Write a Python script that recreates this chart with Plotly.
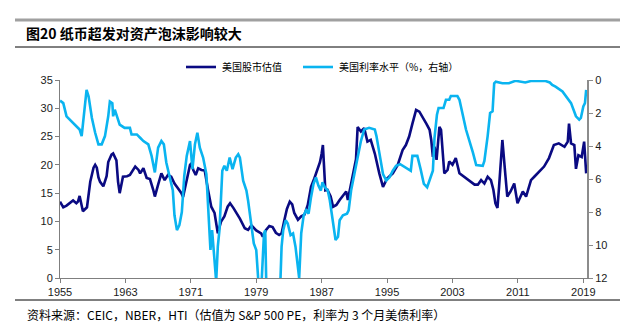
import plotly.graph_objects as go

# --- Data ---
pe_years = [1955.0, 1955.4, 1955.8, 1956.2, 1956.6, 1957.0, 1957.2, 1957.4, 1957.8, 1958.3,
            1958.7, 1959.1, 1959.3, 1959.5, 1959.7, 1959.9, 1960.3, 1960.7, 1960.9, 1961.3,
            1961.5, 1961.9, 1962.1, 1962.3, 1962.7, 1963.2, 1963.55, 1964.2, 1964.6, 1964.8,
            1965.2, 1965.6, 1966.0, 1966.4, 1966.6, 1967.0, 1967.4, 1967.8, 1968.2, 1968.6,
            1969.0, 1969.4, 1969.85, 1970.05, 1970.4, 1970.9, 1971.1, 1971.3, 1971.6, 1971.9,
            1972.3, 1972.7, 1973.1, 1973.5, 1973.9, 1974.3, 1974.7, 1975.1, 1975.5, 1975.8,
            1976.2, 1976.6, 1977.0, 1977.6, 1978.0, 1978.4, 1979.0, 1979.6, 1979.8, 1980.2,
            1980.6, 1981.0, 1981.4, 1981.8, 1982.1, 1982.45, 1982.75, 1983.1, 1983.4, 1983.65,
            1984.1, 1984.5, 1984.9, 1985.3, 1985.7, 1986.1, 1986.5, 1986.8, 1987.0, 1987.15,
            1987.3, 1987.45, 1987.7, 1988.1, 1988.4, 1988.8, 1989.2, 1989.6, 1990.0, 1990.2,
            1990.6, 1991.2, 1991.4, 1991.8, 1992.2, 1992.6, 1993.0, 1993.5, 1994.05, 1994.5,
            1995.0, 1995.7, 1996.3, 1996.9, 1997.3, 1997.7, 1998.1, 1998.55, 1998.95, 1999.35,
            1999.8, 2000.2, 2000.4, 2000.6, 2000.8, 2001.05, 2001.4, 2001.6, 2002.0, 2002.4,
            2002.6, 2003.0, 2003.4, 2003.85, 2004.4, 2005.1, 2005.7, 2006.1, 2006.5, 2006.9,
            2007.3, 2007.7, 2008.0, 2008.25, 2008.5, 2008.7, 2009.05, 2009.1, 2009.45, 2009.7,
            2010.1, 2010.55, 2010.95, 2011.6, 2012.0, 2012.6, 2013.0, 2013.6, 2014.2, 2014.8,
            2015.4, 2016.0, 2016.7, 2017.1, 2017.25, 2017.5, 2017.9, 2018.1, 2018.4, 2018.8,
            2019.1, 2019.35]
pe_values = [13.5, 12.5, 12.8, 13.2, 13.7, 13.2, 13.5, 14.5, 11.8, 12.5,
             17.0, 19.5, 20.0, 19.5, 17.8, 17.0, 16.2, 18.0, 20.5, 21.8,
             22.0, 20.8, 17.0, 15.0, 17.9, 18.0, 18.2, 19.7, 19.1, 18.5,
             19.4, 17.7, 17.5, 15.6, 14.4, 16.5, 18.5, 17.3, 18.2, 17.9,
             16.7, 15.9, 15.0, 14.3, 16.5, 20.0, 20.3, 19.1, 18.2, 19.4,
             19.1, 19.0, 15.6, 12.6, 11.5, 7.9, 10.0, 10.9, 12.6, 13.2,
             12.4, 11.5, 10.5, 8.8, 8.5, 9.3, 8.4, 7.9, 7.3, 8.5,
             9.2, 9.0, 8.0, 7.6, 7.9, 10.3, 12.2, 13.5, 13.0, 11.5,
             10.3, 10.9, 11.2, 12.9, 16.1, 17.6, 19.4, 20.5, 22.0, 23.5,
             19.5, 15.5, 15.6, 14.4, 12.6, 12.9, 13.8, 14.6, 15.3, 13.8,
             16.8, 21.0, 26.7, 25.9, 26.5, 24.1, 24.4, 22.0, 18.5, 16.1,
             17.6, 18.5, 20.0, 22.6, 23.5, 25.0, 27.3, 29.7, 29.4, 28.5,
             27.3, 26.2, 24.4, 21.4, 23.2, 20.9, 26.7, 26.2, 18.5, 19.1,
             20.6, 20.0, 21.2, 18.5, 17.9, 17.3, 16.5, 16.5, 17.3, 16.7,
             17.9, 17.3, 15.6, 13.2, 12.4, 16.2, 24.1, 24.4, 18.5, 14.4,
             15.3, 16.7, 13.2, 15.3, 14.4, 17.3, 17.9, 18.8, 19.7, 21.2,
             23.5, 23.8, 23.2, 24.1, 27.3, 23.8, 23.5, 19.3, 21.7, 21.4,
             24.1, 18.5]

rate_years = [1955.0, 1955.4, 1955.8, 1956.4, 1957.0, 1957.4, 1957.65, 1958.05, 1958.25, 1958.5,
              1958.9, 1959.3, 1959.7, 1960.1, 1960.5, 1960.9, 1961.1, 1961.4, 1961.5, 1961.7,
              1962.1, 1962.3, 1962.9, 1963.55, 1963.75, 1964.4, 1964.8, 1965.2, 1965.8, 1966.2,
              1966.6, 1967.0, 1967.4, 1967.7, 1968.0, 1968.4, 1968.8, 1969.0, 1969.3, 1969.6,
              1969.9, 1970.2, 1970.5, 1970.9, 1971.2, 1971.5, 1971.8, 1972.1, 1972.5, 1972.9,
              1973.2, 1973.4, 1973.6, 1973.8, 1974.1, 1974.3, 1974.5, 1974.85, 1975.1, 1975.4,
              1975.75, 1976.1, 1976.5, 1976.8, 1977.0, 1977.4, 1977.8, 1978.0, 1978.3, 1978.5,
              1978.7, 1979.0, 1979.3, 1979.6, 1979.95, 1980.1, 1980.25, 1980.6, 1981.0, 1981.4,
              1981.9, 1982.1, 1982.3, 1982.6, 1982.85, 1983.2, 1983.5, 1983.8, 1984.1, 1984.25,
              1984.5, 1984.8, 1985.1, 1985.4, 1985.7, 1986.0, 1986.3, 1986.6, 1986.9, 1987.1,
              1987.4, 1987.75, 1988.0, 1988.4, 1988.7, 1989.0, 1989.2, 1989.6, 1990.1, 1990.3,
              1990.6, 1991.0, 1991.4, 1991.8, 1992.2, 1992.8, 1993.5, 1993.7, 1994.05, 1994.5,
              1994.9, 1995.3, 1995.7, 1996.1, 1996.6, 1997.3, 1997.9, 1998.1, 1998.7, 1999.1,
              1999.5, 1999.9, 2000.3, 2000.6, 2000.8, 2001.1, 2001.3, 2001.9, 2002.2, 2002.6,
              2002.8, 2003.6, 2003.85, 2004.65, 2005.5, 2005.9, 2006.7, 2006.9, 2007.3, 2007.6,
              2007.9, 2008.1, 2008.3, 2009.1, 2009.9, 2010.7, 2011.9, 2012.7, 2014.3, 2014.9,
              2015.2, 2015.6, 2016.45, 2016.9, 2017.5, 2018.1, 2018.5, 2018.7, 2019.0, 2019.2,
              2019.35]
rate_values = [1.25, 1.4, 2.2, 2.5, 2.8, 3.0, 3.4, 1.4, 0.6, 1.0,
               2.3, 3.2, 3.9, 3.9, 3.4, 2.2, 1.3, 1.4, 2.2, 1.8,
               2.5, 2.7, 2.9, 2.9, 3.3, 3.3, 3.5, 3.7, 3.9, 4.6,
               5.6, 4.1, 3.7, 3.9, 5.0, 5.8, 6.7, 8.2, 9.1, 8.8,
               8.0, 5.8, 4.6, 3.7, 5.4, 3.9, 3.2, 4.1, 4.7, 5.7,
               8.3, 10.3, 9.1, 10.6, 12.2, 10.1, 9.1, 5.5, 5.2, 5.5,
               4.7, 5.4, 4.7, 4.5, 4.7, 6.1, 6.7, 7.3, 8.5, 9.2,
               9.9, 10.3, 12.5, 12.8, 9.3, 9.1, 13.0, 14.5, 15.5, 14.5,
               13.0, 10.1, 9.1, 8.5, 8.7, 9.4, 9.3, 10.1, 11.4, 12.0,
               9.3, 8.2, 7.9, 8.1, 7.1, 6.3, 5.9, 6.4, 6.7, 6.2,
               6.5, 6.7, 7.3, 8.8, 9.7, 9.5, 8.5, 8.2, 8.1, 7.9,
               6.7, 5.7, 4.6, 3.7, 3.0, 2.9, 3.0, 3.4, 4.4, 5.7,
               6.1, 5.9, 5.5, 5.2, 5.1, 5.3, 5.5, 4.6, 4.6, 5.4,
               6.3, 6.5, 5.9, 5.5, 3.5, 2.1, 1.7, 1.7, 1.2, 1.2,
               0.97, 0.97, 1.2, 3.0, 4.4, 5.15, 5.2, 4.9, 3.4, 2.0,
               1.9, 0.2, 0.1, 0.2, 0.2, 0.05, 0.15, 0.05, 0.05, 0.15,
               0.3, 0.4, 0.7, 1.0, 1.4, 2.2, 2.4, 2.3, 1.6, 1.4,
               0.6]

x_ticks = [1955, 1963, 1971, 1979, 1987, 1995, 2003, 2011, 2019]
y_left_ticks = [0, 5, 10, 15, 20, 25, 30, 35]
y_right_ticks = [0, 2, 4, 6, 8, 10, 12]

series_pe_name = "美国股市估值"
series_rate_name = "美国利率水平（%，右轴）"
title_text = "图20 纸币超发对资产泡沫影响较大"
source_text = "资料来源：CEIC，NBER，HTI（估值为 S&P 500 PE，利率为 3 个月美债利率）"

NAVY = "#0A0A82"
LIGHT = "#0AB4F0"
CJK = "Noto Sans CJK SC"
LAT = "Liberation Sans, Arial, sans-serif"

fig = go.Figure()
fig.add_trace(go.Scatter(x=pe_years, y=pe_values, mode="lines", name=series_pe_name,
                         line=dict(color=NAVY, width=2.6), yaxis="y"))
fig.add_trace(go.Scatter(x=rate_years, y=rate_values, mode="lines", name=series_rate_name,
                         line=dict(color=LIGHT, width=2.6), yaxis="y2"))

# plot area in pixels: x 60..587, y 80..278
L, R, T, B = 60, 587, 80, 278
W, H = 635, 332

def xp(px):
    return (px - L) / (R - L)

def yp(py):
    return (B - py) / (B - T)

shapes = [
    dict(type="line", xref="paper", yref="paper", x0=xp(15), x1=xp(620), y0=yp(20), y1=yp(20),
         line=dict(color="#A0A0A0", width=3)),
    dict(type="line", xref="paper", yref="paper", x0=xp(15), x1=xp(620), y0=yp(47), y1=yp(47),
         line=dict(color="#000000", width=1)),
    dict(type="line", xref="paper", yref="paper", x0=xp(15), x1=xp(620), y0=yp(300), y1=yp(300),
         line=dict(color="#000000", width=1)),
    # legend samples
    dict(type="line", xref="paper", yref="paper", x0=xp(186), x1=xp(216), y0=yp(67), y1=yp(67),
         line=dict(color=NAVY, width=2.6)),
    dict(type="line", xref="paper", yref="paper", x0=xp(303), x1=xp(333), y0=yp(67), y1=yp(67),
         line=dict(color=LIGHT, width=2.6)),
]

annotations = [
    dict(text="<b>" + title_text + "</b>", xref="paper", yref="paper", x=xp(24), y=yp(33),
         xanchor="left", yanchor="middle", showarrow=False,
         font=dict(family=CJK, size=14, color="#000000")),
    dict(text=series_pe_name, xref="paper", yref="paper", x=xp(220), y=yp(67),
         xanchor="left", yanchor="middle", showarrow=False,
         font=dict(family=CJK, size=10, color="#000000")),
    dict(text=series_rate_name, xref="paper", yref="paper", x=xp(337), y=yp(67),
         xanchor="left", yanchor="middle", showarrow=False,
         font=dict(family=CJK, size=10, color="#000000")),
    dict(text=source_text, xref="paper", yref="paper", x=xp(25), y=yp(314),
         xanchor="left", yanchor="middle", showarrow=False,
         font=dict(family=CJK, size=12, color="#000000")),
]

fig.update_layout(
    width=W, height=H,
    margin=dict(l=L, r=W - R, t=T, b=H - B, pad=0),
    paper_bgcolor="white", plot_bgcolor="white",
    showlegend=False,
    shapes=shapes, annotations=annotations,
    font=dict(family=LAT, size=11, color="#1a1a1a"),
    xaxis=dict(range=[1955, 2019.45], tickvals=x_ticks, ticktext=[str(v) for v in x_ticks],
               showgrid=False, zeroline=False, showline=True, linecolor="#7f7f7f", linewidth=1,
               ticks="outside", ticklen=4, tickcolor="#7f7f7f", tickfont=dict(size=11)),
    yaxis=dict(range=[0, 35], tickvals=y_left_ticks, showgrid=False, zeroline=False,
               showline=True, linecolor="#7f7f7f", linewidth=1, ticks="outside", ticklen=4,
               tickcolor="#7f7f7f", tickfont=dict(size=11)),
    yaxis2=dict(range=[12, 0], tickvals=y_right_ticks, overlaying="y", side="right",
                showgrid=False, zeroline=False, showline=True, linecolor="#8c8c8c", linewidth=2,
                ticks="outside", ticklen=4, tickcolor="#8c8c8c", tickfont=dict(size=11)),
)

fig.write_html("out.html")
